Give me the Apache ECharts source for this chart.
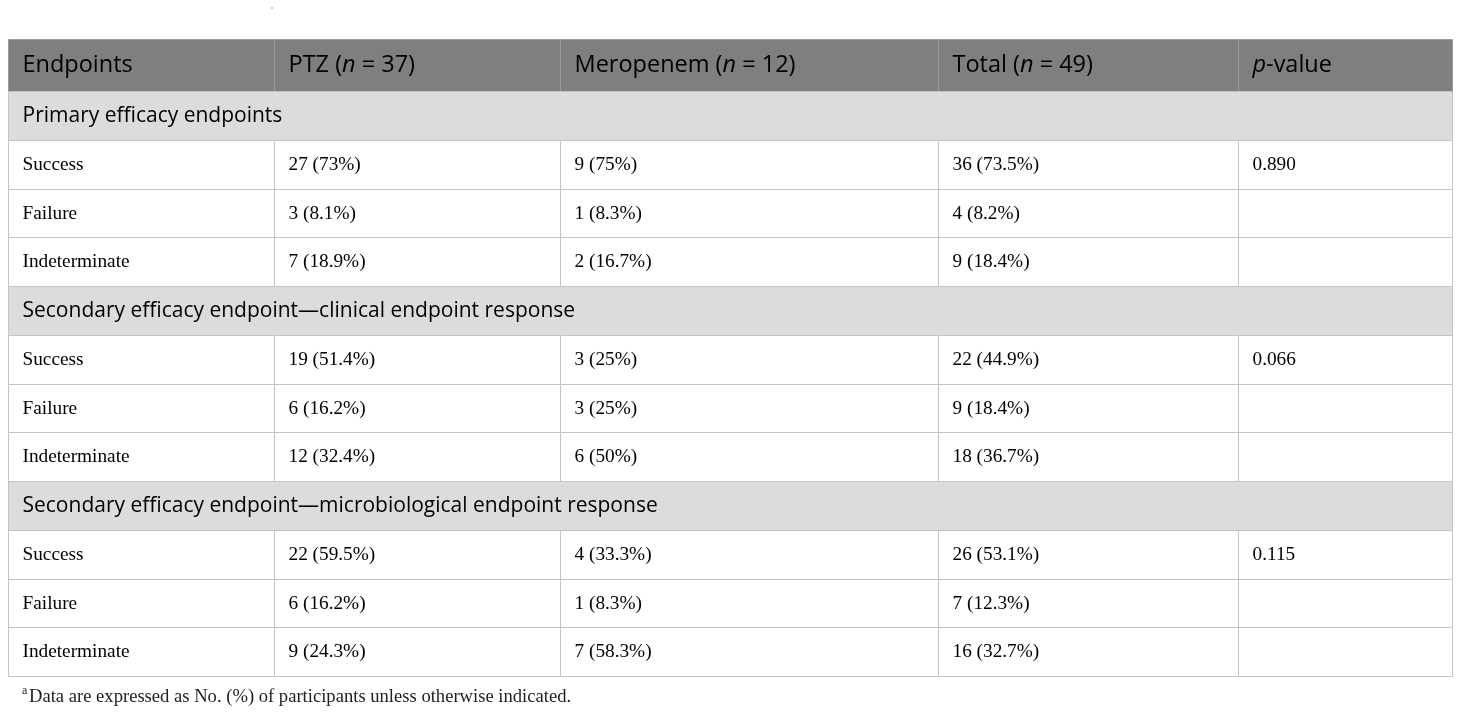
<!DOCTYPE html>
<head>
    <meta charset="utf-8"/>
    <style>
        html, body {
            height: 100%;
            margin: 0;
        }
        body {
            background-color: #fff;
        }
    </style>
    <script src="https://cdn.jsdelivr.net/npm/echarts@6/dist/echarts.min.js"></script>
</head>
<body>
<div id="main" style="height: 100%; width: 100%;"></div>
<script type="text/javascript">
 // table content
 var groups = ['PTZ', 'Meropenem', 'Total'];
 var groupN = [37, 12, 49];
 var sections = [
     'Primary efficacy endpoints',
     'Secondary efficacy endpoint\u2014clinical endpoint response',
     'Secondary efficacy endpoint\u2014microbiological endpoint response'
 ];
 var outcomes = ['Success', 'Failure', 'Indeterminate'];
 // per section: [success, failure, indeterminate]
 var ptzCount = [[27, 3, 7], [19, 6, 12], [22, 6, 9]];
 var ptzPct = [[73, 8.1, 18.9], [51.4, 16.2, 32.4], [59.5, 16.2, 24.3]];
 var meroCount = [[9, 1, 2], [3, 3, 6], [4, 1, 7]];
 var meroPct = [[75, 8.3, 16.7], [25, 25, 50], [33.3, 8.3, 58.3]];
 var totalCount = [[36, 4, 9], [22, 9, 18], [26, 7, 16]];
 var totalPct = [[73.5, 8.2, 18.4], [44.9, 18.4, 36.7], [53.1, 12.3, 32.7]];
 var pValues = ['0.890', '0.066', '0.115'];
 var footnote = 'Data are expressed as No. (%) of participants unless otherwise indicated.';

 // layout (pixel units of the axes)
 var colEdges = [0, 266, 552, 930, 1230, 1444];
 var rowHeights = [52, 49, 49, 48.5, 48.5, 49, 49, 48.5, 48.5, 49, 49, 48.5, 49];
 var rowEdges = [0];
 rowHeights.forEach(function (h, i) { rowEdges.push(rowEdges[i] + h); });

 var rich = {
     h: {fontFamily: 'Open Sans', fontSize: 23.5, color: '#fff'},
     hi: {fontFamily: 'Open Sans', fontSize: 23.5, color: '#fff', fontStyle: 'italic'},
     s: {fontFamily: 'Open Sans', fontSize: 21, color: '#1e1e1e'},
     d: {fontFamily: 'Liberation Serif', fontSize: 19.3, color: '#1e1e1e'}
 };

 function cellText(n, p) { return n + ' (' + p + '%)'; }

 // build cells
 var cells = [];
 cells.push({row: 0, col: 0, span: 1, kind: 'head', text: '{h|Endpoints}'});
 groups.forEach(function (g, i) {
     cells.push({row: 0, col: i + 1, span: 1, kind: 'head', text: '{h|' + g + ' (}{hi|n}{h| = ' + groupN[i] + ')}'});
 });
 cells.push({row: 0, col: 4, span: 1, kind: 'head', text: '{hi|p}{h|-value}'});
 var r = 1;
 sections.forEach(function (sec, s) {
     cells.push({row: r, col: 0, span: 5, kind: 'sec', text: '{s|' + sec + '}'});
     r++;
     outcomes.forEach(function (o, k) {
         var vals = [
             o,
             cellText(ptzCount[s][k], ptzPct[s][k]),
             cellText(meroCount[s][k], meroPct[s][k]),
             cellText(totalCount[s][k], totalPct[s][k]),
             k === 0 ? pValues[s] : ''
         ];
         vals.forEach(function (v, c) {
             cells.push({row: r, col: c, span: 1, kind: 'data', text: v ? '{d|' + v + '}' : ''});
         });
         r++;
     });
 });

 var fills = {head: '#7f7f7f', sec: '#dddcdb', data: '#ffffff'};
 var strokes = {head: '#9c9c9c', sec: '#c4c4c4', data: '#c4c4c4'};

 function renderCell(params, api) {
     var c = cells[api.value(2)];
     var p0 = api.coord([colEdges[c.col], rowEdges[c.row]]);
     var p1 = api.coord([colEdges[c.col + c.span], rowEdges[c.row + 1]]);
     var x0 = Math.round(p0[0]) + 0.5, y0 = Math.round(p0[1]) + 0.5;
     var x1 = Math.round(p1[0]) + 0.5, y1 = Math.round(p1[1]) + 0.5;
     return {
         type: 'group',
         children: [{
             type: 'rect',
             shape: {x: x0, y: y0, width: x1 - x0, height: y1 - y0},
             style: {fill: fills[c.kind], stroke: strokes[c.kind], lineWidth: 1}
         }, {
             type: 'text',
             x: x0 + 14,
             y: (y0 + y1) / 2,
             style: {text: c.text, rich: rich, verticalAlign: 'middle', align: 'left'}
         }]
     };
 }

 var myChart = echarts.init(document.getElementById('main'));
 var options = {
     animation: false,
     grid: {left: 8, right: 8, top: 39, bottom: 37},
     xAxis: {type: 'value', min: 0, max: colEdges[colEdges.length - 1], show: false},
     yAxis: {type: 'value', min: 0, max: rowEdges[rowEdges.length - 1], inverse: true, show: false},
     graphic: [
         {type: 'circle', shape: {cx: 272, cy: 8, r: 0.9}, style: {fill: '#aaa'}},
         {type: 'text', left: 22, top: 685, style: {text: 'a', fontFamily: 'Liberation Serif', fontSize: 12, fill: '#1e1e1e'}},
         {type: 'text', left: 29, top: 688, style: {text: footnote, fontFamily: 'Liberation Serif', fontSize: 18.6, fill: '#1e1e1e'}}
     ],
     series: [{
         type: 'custom',
         renderItem: renderCell,
         encode: {x: 0, y: 1},
         data: cells.map(function (c, i) { return [colEdges[c.col], rowEdges[c.row], i]; })
     }]
 };
 myChart.setOption(options);
 window.onresize = myChart.resize;
</script>
</body>
